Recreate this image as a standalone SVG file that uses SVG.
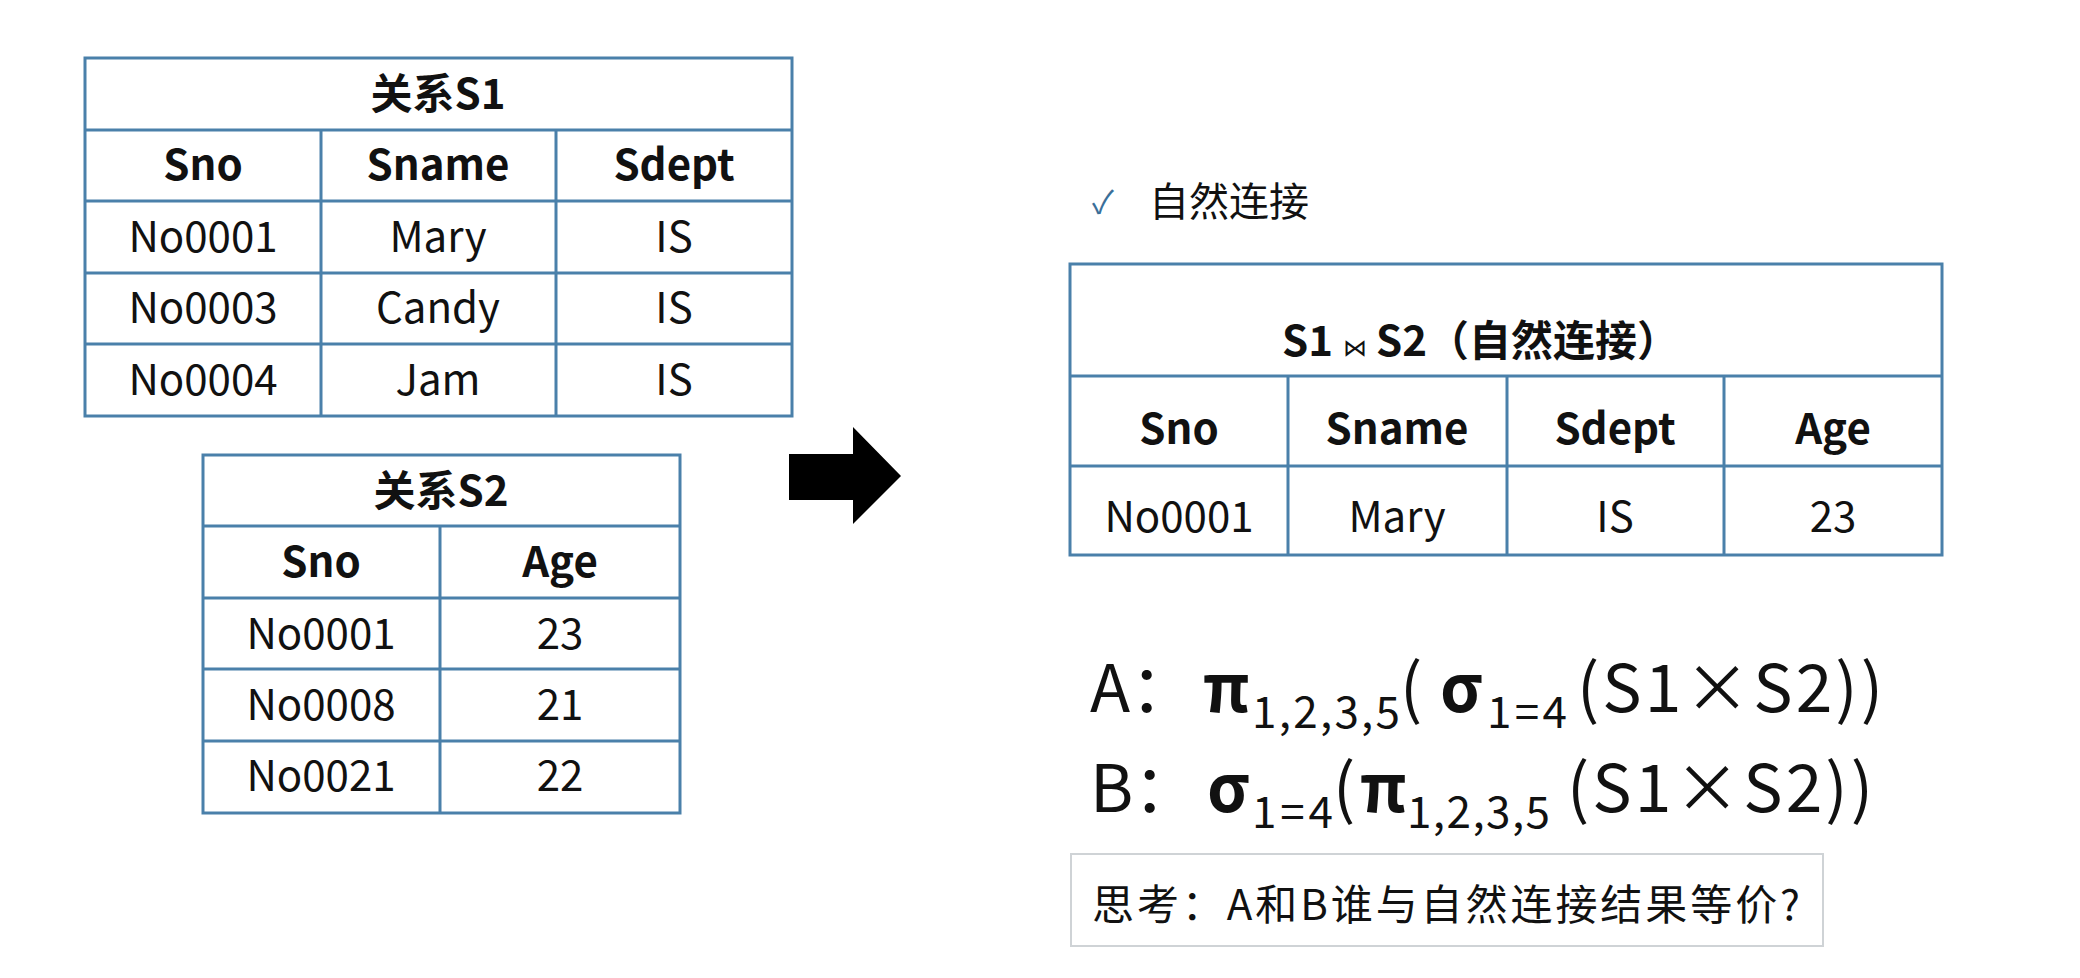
<svg xmlns="http://www.w3.org/2000/svg" width="2080" height="978" viewBox="0 0 2080 978">
<style>
text{font-family:"Noto Sans CJK SC","Noto Sans",sans-serif;fill:#111}
.c{text-anchor:middle}
.h{font-weight:bold;font-size:42px}
.d{font-size:42px}
.g{fill:none;stroke:#4a80aa;stroke-width:3}
.f{font-size:66px}
.s{font-size:44px}
</style>
<rect width="2080" height="978" fill="#fff"/>
<g id="s1">
<rect class="g" x="85" y="58" width="707" height="358"/>
<path class="g" d="M85 130H792M85 201H792M85 273H792M85 344H792M321 130V416M556 130V416"/>
<text class="c h" x="438" y="109">关系S1</text>
<text class="c h" x="203" y="180">Sno</text><text class="c h" x="438" y="180">Sname</text><text class="c h" x="674" y="180">Sdept</text>
<text class="c d" x="203" y="252">No0001</text><text class="c d" x="438" y="252">Mary</text><text class="c d" x="674" y="252">IS</text>
<text class="c d" x="203" y="323">No0003</text><text class="c d" x="438" y="323">Candy</text><text class="c d" x="674" y="323">IS</text>
<text class="c d" x="203" y="395">No0004</text><text class="c d" x="438" y="395">Jam</text><text class="c d" x="674" y="395">IS</text>
</g>
<g id="s2">
<rect class="g" x="203" y="455" width="477" height="358"/>
<path class="g" d="M203 526H680M203 598H680M203 669H680M203 741H680M440 526V813"/>
<text class="c h" x="441" y="506">关系S2</text>
<text class="c h" x="321" y="577">Sno</text><text class="c h" x="560" y="577">Age</text>
<text class="c d" x="321" y="649">No0001</text><text class="c d" x="560" y="649">23</text>
<text class="c d" x="321" y="720">No0008</text><text class="c d" x="560" y="720">21</text>
<text class="c d" x="321" y="791">No0021</text><text class="c d" x="560" y="791">22</text>
</g>
<g id="connectors">
<path d="M789 454H853V427L901 476L853 524V500H789Z" fill="#000"/>
</g>
<g id="heading">
<text x="1092" y="214" font-size="32" fill="#3a6f99" style="fill:#3a6f99">✓</text>
<text x="1149" y="216" font-size="40">自然连接</text>
</g>
<g id="result">
<rect class="g" x="1070" y="264" width="872" height="291"/>
<path class="g" d="M1070 376H1942M1070 466H1942M1288 376V555M1507 376V555M1724 376V555"/>
<text class="h" x="1282" y="356">S1 <tspan font-size="24" font-weight="normal">⋈</tspan> S2（自然连接）</text>
<text class="c h" x="1179" y="444">Sno</text><text class="c h" x="1397" y="444">Sname</text><text class="c h" x="1615" y="444">Sdept</text><text class="c h" x="1833" y="444">Age</text>
<text class="c d" x="1179" y="532">No0001</text><text class="c d" x="1397" y="532">Mary</text><text class="c d" x="1615" y="532">IS</text><text class="c d" x="1833" y="532">23</text>
</g>
<g id="formulaA">
<text class="f" x="1090" y="712">A：</text>
<text class="f" x="1203" y="712" font-weight="bold">π</text>
<text class="s" x="1252" y="728" textLength="148">1,2,3,5</text>
<text class="f" x="1400" y="712">(</text>
<text class="f" x="1440" y="712" font-weight="bold">σ</text>
<text class="s" x="1487" y="728" textLength="80">1=4</text>
<text class="f" x="1577" y="712" textLength="306">(S1×S2))</text>
</g>
<g id="formulaB">
<text class="f" x="1090" y="812">B：</text>
<text class="f" x="1207" y="812" font-weight="bold">σ</text>
<text class="s" x="1252" y="828" textLength="81">1=4</text>
<text class="f" x="1333" y="812">(</text>
<text class="f" x="1360" y="812" font-weight="bold">π</text>
<text class="s" x="1407" y="828" textLength="143">1,2,3,5</text>
<text class="f" x="1567" y="812" textLength="306">(S1×S2))</text>
</g>
<g id="question">
<rect x="1071" y="854" width="752" height="92" fill="#fff" stroke="#cfd3d6" stroke-width="2"/>
<text x="1092" y="920" font-size="42" textLength="708">思考：A和B谁与自然连接结果等价?</text>
</g>
</svg>
